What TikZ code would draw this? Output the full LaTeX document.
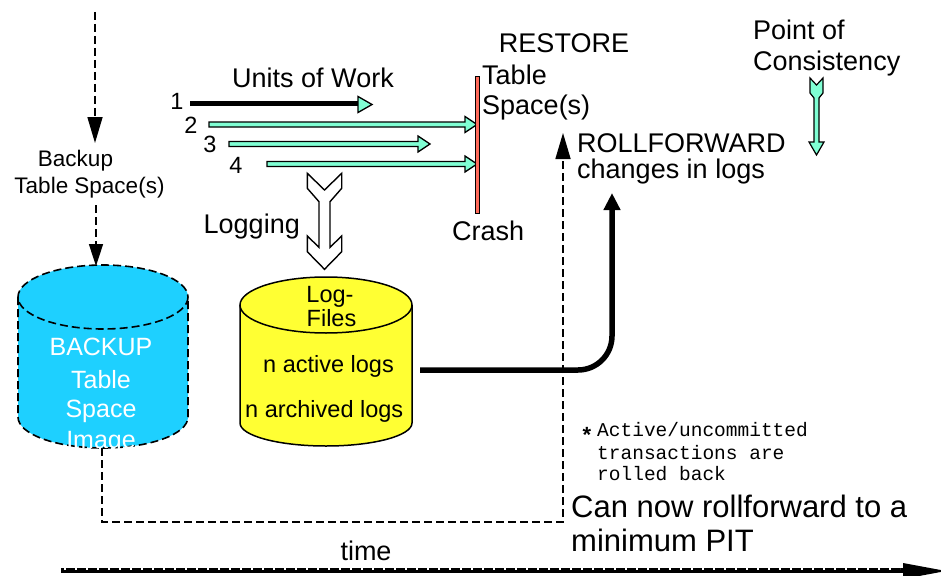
\documentclass[tikz,border=0pt]{standalone}
\usepackage{fontspec}
\setmainfont{Liberation Sans}
\setmonofont{Liberation Mono}
\usetikzlibrary{arrows.meta}
\definecolor{tapecyan}{HTML}{1ED0FF}
\definecolor{logyellow}{HTML}{FFFF33}
\definecolor{uowmint}{HTML}{80FFD4}
\definecolor{crashred}{HTML}{FF6A5A}
\newcommand\txtsize[1]{\fontsize{#1}{#1}\selectfont}
% unit-of-work arrow: start x, tip x, centre y
\newcommand\uowarrow[3]{%
  \filldraw[fill=uowmint,draw=black,line width=1.3pt,line join=miter]
    (#1,{#3-2.5}) -- ({#2-12},{#3-2.5}) -- ({#2-12},{#3-8}) -- (#2,#3)
    -- ({#2-12},{#3+8}) -- ({#2-12},{#3+2.5}) -- (#1,{#3+2.5}) -- cycle;}
\begin{document}
\begin{tikzpicture}[x=1pt,y=-1pt,
  lbl/.style={inner sep=0pt,font=\txtsize{27}},
  lblsm/.style={inner sep=0pt,font=\txtsize{23.5}},
  lblbk/.style={inner sep=0pt,font=\txtsize{22.5}},
  lblwhite/.style={inner sep=0pt,font=\txtsize{25},text=white},
  lblmono/.style={inner sep=0pt,font=\ttfamily\txtsize{19.5}},
  lblbig/.style={inner sep=0pt,font=\txtsize{31}},
  dashline/.style={line width=1.6pt,dash pattern=on 8pt off 4pt},
  bigtip/.style={-{Triangle[length=26pt,width=15pt]}},
  midtip/.style={-{Triangle[length=22pt,width=14pt]}},
  rftipstyle/.style={-{Triangle[length=17pt,width=16pt]}},
  solidline/.style={line width=1.5pt,draw=black}]
\useasboundingbox (0,0) rectangle (941,575);
\clip (0,0) rectangle (941,575);

% ---- backup branch on the left
\coordinate (src) at (95,12);
\coordinate (bkin) at (95,143);
\node[lblbk,anchor=base] (bkl1) at (75.5,166) {Backup};
\node[lblbk,anchor=base] (bkl2) at (89.5,193.5) {Table Space(s)};
\coordinate (bkout) at (96,205);
\coordinate (bktop) at (96,266);
\draw[dashline,bigtip] (src) -- (bkin);
\draw[dashline,midtip] (bkout) -- (bktop);

% backup image cylinder
\path[fill=tapecyan] (18,297) -- (18,417)
  arc[start angle=180,end angle=0,x radius=85,y radius=31] -- (188,297)
  arc[start angle=0,end angle=-180,x radius=85,y radius=32] -- cycle;
\draw[dashline] (103,297) ellipse[x radius=85,y radius=32];
\draw[dashline] (18,297) -- (18,417)
  arc[start angle=180,end angle=0,x radius=85,y radius=31] -- (188,297);
\node[lblwhite,anchor=base] (bk1) at (101,355) {BACKUP};
\node[lblwhite,anchor=base] (bk2) at (101,388) {Table};
\node[lblwhite,anchor=base] (bk3) at (101,417) {Space};
\node[lblwhite,anchor=base] (bk4) at (101,448) {Image};

% ---- units of work
\node[lbl,anchor=base] (uow) at (313,88) {Units of Work};
\node[lblsm,anchor=base] (n1) at (177,110) {1};
\node[lblsm,anchor=base] (n2) at (191,133) {2};
\node[lblsm,anchor=base] (n3) at (210,152) {3};
\node[lblsm,anchor=base] (n4) at (236,173) {4};
\draw[line width=5pt] (190,104) -- (359,104);
\filldraw[fill=uowmint,draw=black,line width=1.3pt] (358,96.5) -- (372,104.5) -- (358,112.5) -- cycle;
\uowarrow{209}{477}{124.5}
\uowarrow{229}{430}{144}
\uowarrow{267}{477}{164}

% crash line
\filldraw[fill=crashred,draw=black,line width=0.9pt] (475,76) rectangle (479.5,213);
\node[lbl,anchor=base] (restore) at (564,53) {RESTORE};
\node[lbl,anchor=base west] (rts1) at (482,85) {Table};
\node[lbl,anchor=base west] (rts2) at (482,114) {Space(s)};
\node[lbl,anchor=base west] (crash) at (452,240) {Crash};

% logging arrow
\node[lbl,anchor=base east] (logging) at (300,233) {Logging};
\filldraw[fill=white,draw=black,line width=1.4pt,line join=miter]
  (307.3,173.3) -- (324.5,190) -- (341.7,173.3) -- (341.7,188.3) -- (330,201.7)
  -- (330,247.3) -- (341.7,236) -- (341.7,251.7) -- (324.5,269.3) -- (307.3,251.7)
  -- (307.3,236) -- (319,247.3) -- (319,201.7) -- (307.3,188.3) -- cycle;

% log files cylinder
\path[fill=logyellow] (240,305) -- (240,423)
  arc[start angle=180,end angle=0,x radius=86,y radius=23] -- (412,305)
  arc[start angle=0,end angle=-180,x radius=86,y radius=28] -- cycle;
\draw[solidline] (326,305) ellipse[x radius=86,y radius=28];
\draw[solidline] (240,305) -- (240,423)
  arc[start angle=180,end angle=0,x radius=86,y radius=23] -- (412,305);
\node[lblsm,anchor=base] (lf1) at (330,302) {Log-};
\node[lblsm,anchor=base] (lf2) at (331.5,326) {Files};
\node[lblsm,anchor=base west] (lf3) at (263,372) {n active logs};
\node[lblsm,anchor=base west] (lf4) at (245,417.5) {n archived logs};

% dashed restore path from the backup image
\coordinate (bkbot) at (102,448);
\coordinate (rfturn) at (563,522);
\coordinate (rfup) at (563,133);
\draw[dashline,bigtip] (bkbot) |- (rfturn) -- (rfup);

% rollforward of the logs
\coordinate (logout) at (420,370);
\coordinate (rfcorner) at (612,370);
\coordinate (rftop) at (612,193);
\draw[line width=5.5pt,rounded corners=34pt,rftipstyle] (logout) -- (rfcorner) -- (rftop);
\node[lbl,anchor=base west] (rf1) at (577,152) {ROLLFORWARD};
\node[lbl,anchor=base west] (rf2) at (577,178) {changes in logs};

% point of consistency
\node[lbl,anchor=base west] (pc1) at (753,40) {Point of};
\node[lbl,anchor=base west] (pc2) at (753,71) {Consistency};
\filldraw[fill=uowmint,draw=black,line width=1.2pt,line join=miter]
  (810,78) -- (816.5,85) -- (823,78) -- (823,93) -- (819,98) -- (819,142)
  -- (824,142) -- (816.5,155) -- (809,142) -- (814,142) -- (814,98) -- (810,93) -- cycle;

% footnote and conclusion
\node[inner sep=0pt,font=\bfseries\txtsize{22},anchor=base] (star) at (587,442) {*};
\node[lblmono,anchor=base west] (fn1) at (597,436) {Active/uncommitted};
\node[lblmono,anchor=base west] (fn2) at (597,459) {transactions are};
\node[lblmono,anchor=base west] (fn3) at (597,480) {rolled back};
\node[lblbig,anchor=base west] (pit1) at (571,517) {Can now rollforward to a};
\node[lblbig,anchor=base west] (pit2) at (571,551) {minimum PIT};

% time axis
\node[lbl,anchor=base] (time) at (366,560) {time};
\coordinate (t0) at (61,570.5);
\coordinate (t1) at (905,570.5);
\draw[line width=5pt] (t0) -- (t1);
\draw[white,line width=1.4pt,dash pattern=on 2pt off 9pt] (64,568.8) -- (900,568.8);
\fill (903,563) -- (946,571) -- (903,579) -- cycle;
\end{tikzpicture}
\end{document}
